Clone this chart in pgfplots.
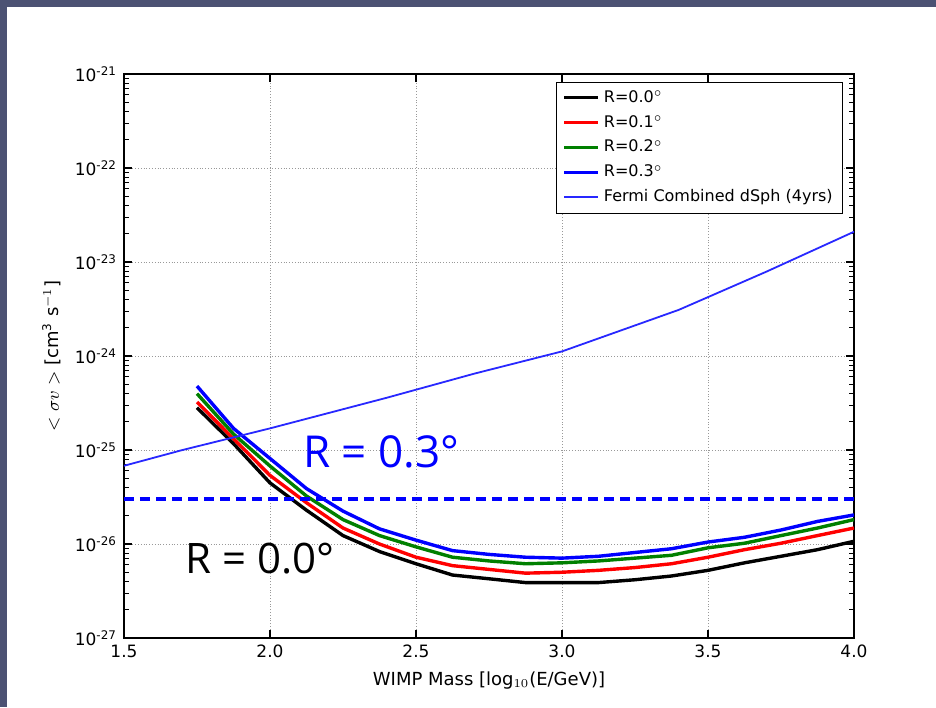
\documentclass[border=0pt]{standalone}
\usepackage{fontspec}
\setmainfont{DejaVu Sans}
\newfontfamily\annfont{Open Sans}
\usepackage{pgfplots}
\pgfplotsset{compat=1.18}
\definecolor{slate}{RGB}{76,82,115}
\definecolor{fermiblue}{RGB}{40,40,255}
\begin{document}
\begin{tikzpicture}[x=1pt,y=1pt]
\fill[slate] (-62,-34.5) rectangle (406,319);
\fill[white] (-58.5,-34.5) rectangle (406,315.5);
\useasboundingbox (-62,-34.5) rectangle (406,319);
\begin{axis}[at={(0,0)}, anchor=south west, scale only axis,
 width=365pt, height=282pt,
 xmin=1.5, xmax=4, ymode=log, ymin=1e-27, ymax=1e-21,
 xtick={1.5,2,2.5,3,3.5,4}, xticklabels={1.5,2.0,2.5,3.0,3.5,4.0},
 ytick={1e-27,1e-26,1e-25,1e-24,1e-23,1e-22,1e-21},
 yticklabels={10\textsuperscript{-27},10\textsuperscript{-26},10\textsuperscript{-25},10\textsuperscript{-24},10\textsuperscript{-23},10\textsuperscript{-22},10\textsuperscript{-21}},
 minor ytick={2e-27,3e-27,4e-27,5e-27,6e-27,7e-27,8e-27,9e-27,
 2e-26,3e-26,4e-26,5e-26,6e-26,7e-26,8e-26,9e-26,
 2e-25,3e-25,4e-25,5e-25,6e-25,7e-25,8e-25,9e-25,
 2e-24,3e-24,4e-24,5e-24,6e-24,7e-24,8e-24,9e-24,
 2e-23,3e-23,4e-23,5e-23,6e-23,7e-23,8e-23,9e-23,
 2e-22,3e-22,4e-22,5e-22,6e-22,7e-22,8e-22,9e-22},
 grid=major, grid style={densely dotted, gray!80, line width=0.5pt},
 minor grid style={draw=none},
 axis line style={line width=0.9pt},
 major tick length=4pt, minor tick length=2.5pt,
 tick style={black, line width=0.6pt},
 tick label style={font=\fontsize{8.5}{10}\selectfont},
 xlabel={WIMP Mass [log$_{10}$(E/GeV)]},
 ylabel={$<\sigma v>$ [cm\textsuperscript{3} s\textsuperscript{$-1$}]},
 label style={font=\fontsize{9}{11}\selectfont},
 legend style={at={(0.985,0.986)}, anchor=north east, font=\fontsize{8}{10}\selectfont, row sep=1pt},
 legend cell align=left,
]
\addplot[black, line width=1.7pt] coordinates {
(1.75,2.82e-25)(1.875,1.17e-25)(2.0,4.47e-26)(2.125,2.29e-26)(2.25,1.23e-26)(2.375,8.32e-27)(2.5,6.17e-27)(2.625,4.68e-27)(2.75,4.27e-27)(2.875,3.89e-27)(3.0,3.89e-27)(3.125,3.89e-27)(3.25,4.17e-27)(3.375,4.57e-27)(3.5,5.25e-27)(3.625,6.31e-27)(3.75,7.41e-27)(3.875,8.71e-27)(4.0,1.07e-26)};
\addlegendentry{R=0.0$^\circ$}
\addplot[red, line width=1.7pt] coordinates {
(1.75,3.24e-25)(1.875,1.32e-25)(2.0,5.37e-26)(2.125,2.75e-26)(2.25,1.48e-26)(2.375,1.00e-26)(2.5,7.24e-27)(2.625,5.89e-27)(2.75,5.37e-27)(2.875,4.90e-27)(3.0,5.01e-27)(3.125,5.25e-27)(3.25,5.62e-27)(3.375,6.17e-27)(3.5,7.24e-27)(3.625,8.71e-27)(3.75,1.02e-26)(3.875,1.23e-26)(4.0,1.48e-26)};
\addlegendentry{R=0.1$^\circ$}
\addplot[green!50!black, line width=1.7pt] coordinates {
(1.75,3.98e-25)(1.875,1.48e-25)(2.0,6.76e-26)(2.125,3.24e-26)(2.25,1.82e-26)(2.375,1.23e-26)(2.5,9.33e-27)(2.625,7.24e-27)(2.75,6.61e-27)(2.875,6.17e-27)(3.0,6.31e-27)(3.125,6.61e-27)(3.25,7.08e-27)(3.375,7.59e-27)(3.5,9.12e-27)(3.625,1.02e-26)(3.75,1.23e-26)(3.875,1.48e-26)(4.0,1.82e-26)};
\addlegendentry{R=0.2$^\circ$}
\addplot[blue, line width=1.7pt] coordinates {
(1.75,4.79e-25)(1.875,1.70e-25)(2.0,8.13e-26)(2.125,3.89e-26)(2.25,2.24e-26)(2.375,1.45e-26)(2.5,1.10e-26)(2.625,8.51e-27)(2.75,7.76e-27)(2.875,7.24e-27)(3.0,7.08e-27)(3.125,7.41e-27)(3.25,8.13e-27)(3.375,8.91e-27)(3.5,1.05e-26)(3.625,1.18e-26)(3.75,1.41e-26)(3.875,1.74e-26)(4.0,2.04e-26)};
\addlegendentry{R=0.3$^\circ$}
\addplot[color=fermiblue, line width=0.9pt, forget plot] coordinates {
(1.5,6.8e-26)(1.7,1.0e-25)(2.0,1.7e-25)(2.4,3.6e-25)(2.7,6.5e-25)(3.0,1.12e-24)(3.4,3.1e-24)(3.7,7.9e-24)(4.0,2.1e-23)};
\addlegendimage{legend image code/.code={\draw[color=fermiblue, line width=1pt] (0pt,0pt) -- (0.6cm,0pt);}}
\addlegendentry{Fermi Combined dSph (4yrs)}
\addplot[blue, line width=1.8pt, dash pattern=on 5pt off 3pt, forget plot] coordinates {(1.5,3e-26)(4.0,3e-26)};
\node[anchor=base west, text=blue, font=\annfont\fontsize{22}{24}\selectfont, inner sep=0pt] at (axis cs:2.113,6.46e-26) {R = 0.3°};
\node[anchor=base west, text=black, font=\annfont\fontsize{21}{24}\selectfont, inner sep=0pt] at (axis cs:1.709,4.9e-27) {R = 0.0°};
\end{axis}
\end{tikzpicture}
\end{document}
